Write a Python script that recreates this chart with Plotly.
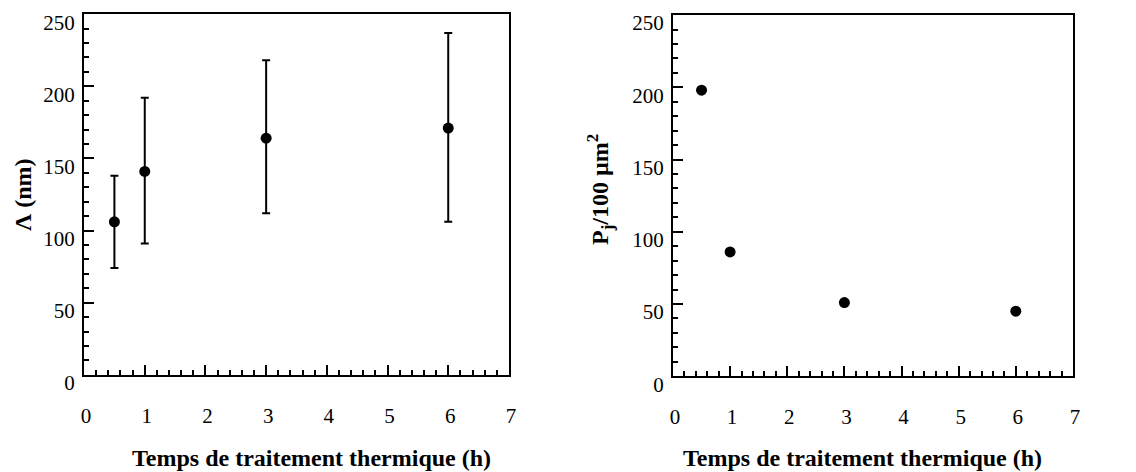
import plotly.graph_objects as go
from plotly.subplots import make_subplots

# Data
time_h = [0.5, 1, 3, 6]
lambda_nm = [106, 141, 164, 171]
lambda_err_plus = [32, 51, 54, 66]
lambda_err_minus = [32, 50, 52, 65]
pj_density = [198, 86, 51, 45]

x_ticks = [0, 1, 2, 3, 4, 5, 6, 7]
y_ticks = [0, 50, 100, 150, 200, 250]

x_title = "Temps de traitement thermique (h)"
y1_title = "Λ (nm)"
y2_title = "P<sub>j</sub>/100 µm<sup>2</sup>"

FONT = "Liberation Serif"

fig = make_subplots(rows=1, cols=2)

fig.add_trace(go.Scatter(
    x=time_h, y=lambda_nm, mode="markers",
    marker=dict(color="black", size=11),
    error_y=dict(type="data", symmetric=False, array=lambda_err_plus,
                 arrayminus=lambda_err_minus, color="black", thickness=2, width=4),
    showlegend=False), row=1, col=1)

fig.add_trace(go.Scatter(
    x=time_h, y=pj_density, mode="markers",
    marker=dict(color="black", size=11),
    showlegend=False), row=1, col=2)

xax = dict(range=[0, 7], tickvals=x_ticks, ticks="inside", ticklen=10, tickwidth=2,
           tickcolor="black", showline=True, linecolor="black", linewidth=2, mirror=True,
           showgrid=False, zeroline=False, automargin=False,
           minor=dict(dtick=0.2, ticks="inside", ticklen=5, tickwidth=1.5, tickcolor="black"),
           tickfont=dict(family=FONT, size=21, color="black"),
           ticklabelstandoff=21, ticklabelshift=2)
yax = dict(range=[0, 250], tickvals=y_ticks, ticks="inside", ticklen=10, tickwidth=2,
           tickcolor="black", showline=True, linecolor="black", linewidth=2, mirror=True,
           showgrid=False, zeroline=False, automargin=False,
           minor=dict(dtick=10, ticks="inside", ticklen=5, tickwidth=1.5, tickcolor="black"),
           tickfont=dict(family=FONT, size=21, color="black"),
           ticklabelstandoff=3, ticklabelshift=8)

TF = dict(family=FONT, size=24, color="black")

fig.update_layout(
    width=1136, height=472,
    margin=dict(l=0, r=0, t=0, b=0, autoexpand=False),
    paper_bgcolor="white", plot_bgcolor="white",
    xaxis=dict(xax, domain=[0.074, 0.448]),
    xaxis2=dict(xax, domain=[0.5924, 0.9445]),
    yaxis=dict(yax, domain=[0.206, 0.970]),
    yaxis2=dict(yax, domain=[0.203, 0.968]),
    annotations=[
        dict(text="<b>" + x_title + "</b>", x=311 / 1136, y=0, xref="paper", yref="paper",
             showarrow=False, font=TF, xanchor="center", yanchor="bottom", borderpad=0),
        dict(text="<b>" + x_title + "</b>", x=862 / 1136, y=0, xref="paper", yref="paper",
             showarrow=False, font=TF, xanchor="center", yanchor="bottom", borderpad=0),
        dict(text="<b>" + y1_title + "</b>", x=23 / 1136, y=1 - 195 / 472, xref="paper", yref="paper",
             showarrow=False, textangle=-90, font=TF, xanchor="center", yanchor="middle"),
        dict(text="<b>" + y2_title + "</b>", x=600 / 1136, y=1 - 190 / 472, xref="paper", yref="paper",
             showarrow=False, textangle=-90, font=TF, xanchor="center", yanchor="middle"),
    ],
)

fig.write_html("out.html")
